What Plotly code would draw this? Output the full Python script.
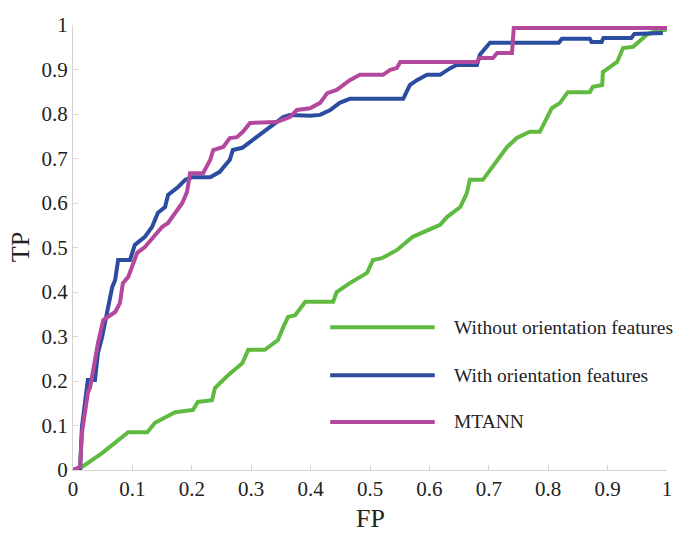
import plotly.graph_objects as go

# ---- data ----
green_fp = [0, 0.012, 0.049, 0.093, 0.125, 0.138, 0.172, 0.202, 0.210, 0.234, 0.239, 0.261, 0.285,
            0.295, 0.323, 0.345, 0.354, 0.362, 0.374, 0.391, 0.424, 0.438, 0.444, 0.466, 0.495,
            0.505, 0.520, 0.545, 0.572, 0.596, 0.618, 0.630, 0.652, 0.663, 0.668, 0.690, 0.702,
            0.719, 0.731, 0.747, 0.769, 0.786, 0.806, 0.820, 0.833, 0.870, 0.875, 0.891, 0.892,
            0.916, 0.926, 0.943, 0.966, 0.976, 1.0]
green_tp = [0, 0.004, 0.038, 0.085, 0.085, 0.106, 0.130, 0.135, 0.153, 0.157, 0.184, 0.213, 0.240,
            0.270, 0.270, 0.292, 0.321, 0.344, 0.348, 0.378, 0.378, 0.378, 0.400, 0.420, 0.443,
            0.472, 0.476, 0.494, 0.524, 0.539, 0.551, 0.569, 0.591, 0.622, 0.652, 0.652, 0.674,
            0.703, 0.726, 0.746, 0.760, 0.760, 0.813, 0.825, 0.849, 0.849, 0.861, 0.865, 0.894,
            0.917, 0.948, 0.951, 0.978, 0.984, 0.99]

blue_fp = [0, 0.012, 0.015, 0.025, 0.037, 0.042, 0.049, 0.057, 0.066, 0.071, 0.076, 0.096, 0.104,
           0.121, 0.133, 0.143, 0.155, 0.160, 0.177, 0.189, 0.202, 0.231, 0.247, 0.264, 0.269,
           0.285, 0.298, 0.315, 0.332, 0.354, 0.365, 0.399, 0.416, 0.433, 0.449, 0.466, 0.556,
           0.567, 0.579, 0.596, 0.618, 0.635, 0.646, 0.680, 0.685, 0.702, 0.818, 0.823, 0.870,
           0.873, 0.890, 0.893, 0.940, 0.945, 0.993]
blue_tp = [0, 0.004, 0.097, 0.202, 0.202, 0.263, 0.299, 0.353, 0.411, 0.427, 0.472, 0.472, 0.506,
           0.524, 0.546, 0.578, 0.591, 0.618, 0.636, 0.652, 0.658, 0.658, 0.670, 0.697, 0.719,
           0.724, 0.737, 0.753, 0.771, 0.793, 0.798, 0.796, 0.798, 0.809, 0.825, 0.834, 0.834,
           0.865, 0.876, 0.888, 0.888, 0.903, 0.910, 0.910, 0.933, 0.960, 0.960, 0.969, 0.969,
           0.962, 0.962, 0.971, 0.971, 0.980, 0.982]

mtann_fp = [0, 0.012, 0.015, 0.025, 0.029, 0.037, 0.042, 0.051, 0.059, 0.071, 0.079, 0.084, 0.093,
            0.101, 0.108, 0.121, 0.133, 0.150, 0.160, 0.172, 0.184, 0.192, 0.197, 0.219, 0.231,
            0.236, 0.253, 0.264, 0.276, 0.286, 0.298, 0.343, 0.354, 0.365, 0.377, 0.399, 0.416,
            0.428, 0.444, 0.461, 0.466, 0.483, 0.522, 0.534, 0.545, 0.551, 0.680, 0.685, 0.707,
            0.714, 0.739, 0.742, 1.0]
mtann_tp = [0, 0.007, 0.083, 0.173, 0.187, 0.247, 0.285, 0.337, 0.344, 0.355, 0.375, 0.420, 0.434,
            0.465, 0.488, 0.501, 0.521, 0.546, 0.555, 0.578, 0.600, 0.625, 0.667, 0.667, 0.697,
            0.719, 0.726, 0.746, 0.748, 0.760, 0.780, 0.782, 0.787, 0.793, 0.809, 0.813, 0.825,
            0.847, 0.854, 0.870, 0.876, 0.888, 0.888, 0.899, 0.903, 0.917, 0.917, 0.926, 0.926,
            0.937, 0.937, 0.993, 0.993]

series_names = ["Without orientation features", "With orientation features", "MTANN"]
tick_vals = [0, 0.1, 0.2, 0.3, 0.4, 0.5, 0.6, 0.7, 0.8, 0.9, 1]
tick_text = ["0", "0.1", "0.2", "0.3", "0.4", "0.5", "0.6", "0.7", "0.8", "0.9", "1"]

colors = ["#60ba40", "#2b4c9f", "#b4489c"]
FONT = "Liberation Serif"

fig = go.Figure()
for fp, tp, c, n in [(green_fp, green_tp, colors[0], series_names[0]),
                     (blue_fp, blue_tp, colors[1], series_names[1]),
                     (mtann_fp, mtann_tp, colors[2], series_names[2])]:
    fig.add_trace(go.Scatter(x=fp, y=tp, mode="lines", name=n,
                             line=dict(color=c, width=4), showlegend=False))

# manual legend (long line samples as in the reference)
leg_y = [0.321, 0.213, 0.108]
for c, n, yy in zip(colors, series_names, leg_y):
    fig.add_shape(type="line", xref="paper", yref="paper", x0=0.433, x1=0.609, y0=yy, y1=yy,
                  line=dict(color=c, width=4))
    fig.add_annotation(x=0.638, y=yy, xref="paper", yref="paper", text=n, showarrow=False,
                       xanchor="left", yanchor="middle", font=dict(family=FONT, size=19.5, color="#222"))

fig.add_annotation(x=0.5, y=-0.108, xref="paper", yref="paper", text="FP", showarrow=False,
                   xanchor="center", yanchor="middle", font=dict(family=FONT, size=26, color="#222"))
fig.add_annotation(x=-0.088, y=0.5, xref="paper", yref="paper", text="TP", showarrow=False,
                   textangle=-90, xanchor="center", yanchor="middle",
                   font=dict(family=FONT, size=26, color="#222"))

fig.update_layout(width=679, height=533, margin=dict(l=73, r=12, t=25, b=63),
                  font=dict(family=FONT, size=21, color="#222"),
                  plot_bgcolor="white", paper_bgcolor="white")

for upd in (fig.update_xaxes, fig.update_yaxes):
    upd(range=[0, 1], showgrid=False, zeroline=False, showline=True,
        linecolor="#d4d4d4", linewidth=1, ticks="inside", ticklen=5,
        tickcolor="#d4d4d4", tickmode="array", tickvals=tick_vals, ticktext=tick_text,
        tickfont_family=FONT, tickfont_size=21, tickfont_color="#222", automargin=False)

fig.write_html("out.html")
